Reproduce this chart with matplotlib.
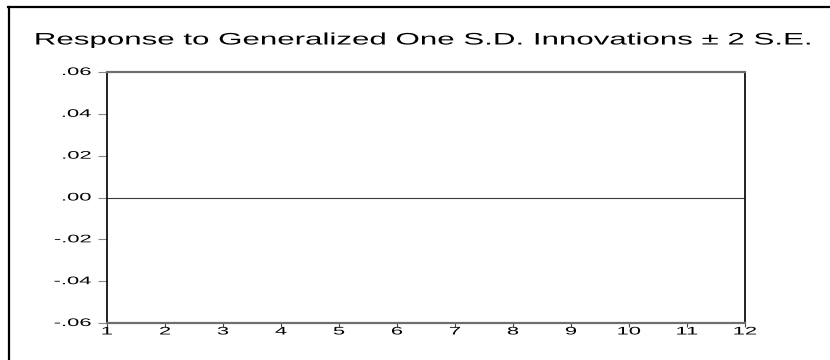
import matplotlib
matplotlib.use("Agg")
import matplotlib.pyplot as plt
from matplotlib.lines import Line2D
from matplotlib.patheffects import AbstractPathEffect
from matplotlib.transforms import Affine2D, blended_transform_factory, offset_copy

# ---- data ----
title_text = "Response to Generalized One S.D. Innovations \u00b1 2 S.E."
x_ticks = [1, 2, 3, 4, 5, 6, 7, 8, 9, 10, 11, 12]
x_labels = ["1", "2", "3", "4", "5", "6", "7", "8", "9", "10", "11", "12"]
y_ticks = [0.06, 0.04, 0.02, 0.00, -0.02, -0.04, -0.06]
y_labels = [".06", ".04", ".02", ".00", "-.02", "-.04", "-.06"]
zero_level = 0.0

W, H = 830, 360
DPI = 100
SX = 2.0  # horizontal stretch of the original picture's tick text


class HStretch(AbstractPathEffect):
    def __init__(self, sx, anchor="left"):
        super().__init__()
        self.sx = sx
        self.anchor = anchor

    def draw_path(self, renderer, gc, tpath, affine, rgbFace=None):
        bb = tpath.get_extents(affine)
        if self.anchor == "left":
            a = bb.x0
        elif self.anchor == "right":
            a = bb.x1
        else:
            a = 0.5 * (bb.x0 + bb.x1)
        aff = affine + Affine2D().translate(-a, 0).scale(self.sx, 1).translate(a, 0)
        renderer.draw_path(gc, tpath, aff, rgbFace)


plt.rcParams["font.family"] = ["Liberation Sans", "DejaVu Sans"]

fig = plt.figure(figsize=(W / DPI, H / DPI), dpi=DPI)
fig.patch.set_facecolor("white")

def fx(px):
    return px / W

def fy(py):
    return 1 - py / H

# axes placement (pixels)
L, R, T, B = 107, 745, 72, 323
ax = fig.add_axes([fx(L), fy(B), fx(R - L), (B - T) / H])
ax.set_xlim(x_ticks[0], x_ticks[-1])
ax.set_ylim(min(y_ticks), max(y_ticks))
ax.set_facecolor("white")

ax.axhline(zero_level, color="#3a3a3a", lw=0.8)

for s in ("left", "right"):
    ax.spines[s].set_color("#111111")
    ax.spines[s].set_linewidth(1.3)
for s in ("top", "bottom"):
    ax.spines[s].set_color("#6e6e6e")
    ax.spines[s].set_linewidth(1.6)

ax.set_xticks(x_ticks)
ax.set_yticks(y_ticks)
ax.set_xticklabels([])
ax.set_yticklabels([])
ax.tick_params(axis="y", direction="out", length=6.5, width=0.8, color="#888888")
ax.tick_params(axis="x", direction="out", length=3, width=0.8, color="#444444")

# y tick labels
ytrans = offset_copy(blended_transform_factory(ax.transAxes, ax.transData),
                     fig=fig, x=-11.5, y=0, units="points")
for v, lab in zip(y_ticks, y_labels):
    t = ax.text(0, v, lab, transform=ytrans, ha="right", va="center",
                fontsize=7.9, color="black")
    t.set_path_effects([HStretch(SX, "right")])

# x tick labels
xtrans = offset_copy(blended_transform_factory(ax.transData, ax.transAxes),
                     fig=fig, x=0, y=-2.5, units="points")
for v, lab in zip(x_ticks, x_labels):
    t = ax.text(v, 0, lab, transform=xtrans, ha="center", va="top",
                fontsize=7.9, color="black")
    t.set_path_effects([HStretch(SX, "center")])

# title (stretched so it spans the same width as in the reference)
TITLE_X0, TITLE_X1 = 35, 813
tt = fig.text(fx(TITLE_X0), fy(40), title_text, ha="left", va="center",
              fontsize=12, color="black")
fig.canvas.draw()
tw = tt.get_window_extent(fig.canvas.get_renderer()).width
tt.set_path_effects([HStretch((TITLE_X1 - TITLE_X0) / tw, "left")])

# outer frame (left and top rules)
fig.add_artist(Line2D([fx(9), fx(9)], [fy(6.5), 0], transform=fig.transFigure,
                      color="black", lw=1.6))
fig.add_artist(Line2D([fx(8.2), 1], [fy(6.5), fy(6.5)], transform=fig.transFigure,
                      color="black", lw=1.6))

fig.savefig("out.png", dpi=DPI, facecolor="white")
